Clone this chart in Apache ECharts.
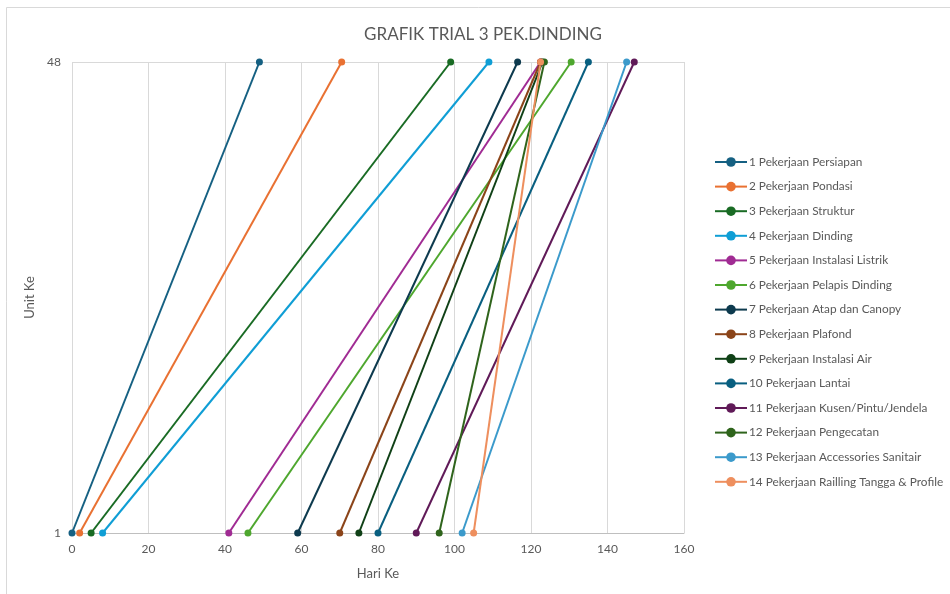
<!DOCTYPE html>
<html>
<head>
<meta charset="utf-8">
<script src="https://cdn.jsdelivr.net/npm/echarts@6/dist/echarts.min.js"></script>
<style>
  html, body { margin: 0; padding: 0; background: #ffffff; }
  #chart { width: 950px; height: 594px; }
</style>
</head>
<body>
<div id="chart"></div>
<script>
// Work items, start day (unit 1) and finish day (unit 48)
const taskNames = [
  '1 Pekerjaan Persiapan',
  '2 Pekerjaan Pondasi',
  '3 Pekerjaan Struktur',
  '4 Pekerjaan Dinding',
  '5 Pekerjaan Instalasi Listrik',
  '6 Pekerjaan Pelapis Dinding',
  '7 Pekerjaan Atap dan Canopy',
  '8 Pekerjaan Plafond',
  '9 Pekerjaan Instalasi Air',
  '10 Pekerjaan Lantai',
  '11 Pekerjaan Kusen/Pintu/Jendela',
  '12 Pekerjaan Pengecatan',
  '13 Pekerjaan Accessories Sanitair',
  '14 Pekerjaan Railling Tangga & Profile'
];
const startDays = [0, 2, 5, 8, 41, 46, 59, 70, 75, 80, 90, 96, 102, 105];
const finishDays = [49, 70.5, 99, 109, 122.5, 130.5, 116.5, 122.5, 123, 135, 147, 123.5, 145, 122.5];
const firstUnit = 1;
const lastUnit = 48;
const xTicks = [0, 20, 40, 60, 80, 100, 120, 140, 160];

const palette = [
  '#156082', '#E97132', '#196B24', '#0F9ED5', '#A02B93', '#4EA72E', '#0D3A4E',
  '#8B4419', '#0F4016', '#095F80', '#601A58', '#2F641C', '#3B9ACB', '#EE8F5E'
];

const textColor = '#595959';
const fontFamily = 'Lato, "Open Sans", sans-serif';

const series = taskNames.map((name, i) => ({
  name: name,
  type: 'line',
  data: [[startDays[i], firstUnit], [finishDays[i], lastUnit]],
  symbol: 'circle',
  symbolSize: 7,
  lineStyle: { width: 2, color: palette[i] },
  itemStyle: { color: palette[i] },
  emphasis: { disabled: true },
  animation: false
}));

const chart = echarts.init(document.getElementById('chart'), null, { renderer: 'canvas' });
chart.setOption({
  backgroundColor: '#ffffff',
  animation: false,
  textStyle: { fontFamily: fontFamily },
  graphic: [{
    type: 'rect',
    shape: { x: 6.5, y: 7.5, width: 960, height: 600 },
    style: { fill: 'none', stroke: '#d9d9d9', lineWidth: 1 },
    silent: true
  }],
  title: {
    text: 'GRAFIK TRIAL 3 PEK.DINDING',
    left: 478,
    top: 21,
    textAlign: 'center',
    textStyle: { color: textColor, fontSize: 17, fontWeight: 'normal', fontFamily: fontFamily }
  },
  legend: {
    orient: 'vertical',
    left: 709,
    top: 151,
    itemWidth: 32,
    itemHeight: 12,
    itemGap: 12.6,
    textStyle: { color: textColor, fontSize: 11.8, fontFamily: fontFamily, padding: [0, 0, 0, -3] },
    data: taskNames
  },
  grid: { left: 72, right: 266, top: 62, bottom: 61, containLabel: false },
  xAxis: {
    type: 'value',
    min: xTicks[0],
    max: xTicks[xTicks.length - 1],
    interval: 20,
    name: 'Hari Ke',
    nameLocation: 'middle',
    nameGap: 34,
    nameTextStyle: { color: textColor, fontSize: 13 },
    axisLine: { show: true, lineStyle: { color: '#bfbfbf', width: 1 } },
    axisTick: { show: false },
    axisLabel: { color: textColor, fontSize: 12, margin: 10 },
    splitLine: { show: true, lineStyle: { color: '#d9d9d9', width: 1 } }
  },
  yAxis: {
    type: 'value',
    min: firstUnit,
    max: lastUnit,
    interval: lastUnit - firstUnit,
    name: 'Unit Ke',
    nameLocation: 'middle',
    nameGap: 34,
    nameRotate: 90,
    nameTextStyle: { color: textColor, fontSize: 13 },
    axisLine: { show: false },
    axisTick: { show: false },
    axisLabel: { color: textColor, fontSize: 12, margin: 11 },
    splitLine: { show: true, lineStyle: { color: '#d9d9d9', width: 1 } }
  },
  series: series
});
</script>
</body>
</html>
